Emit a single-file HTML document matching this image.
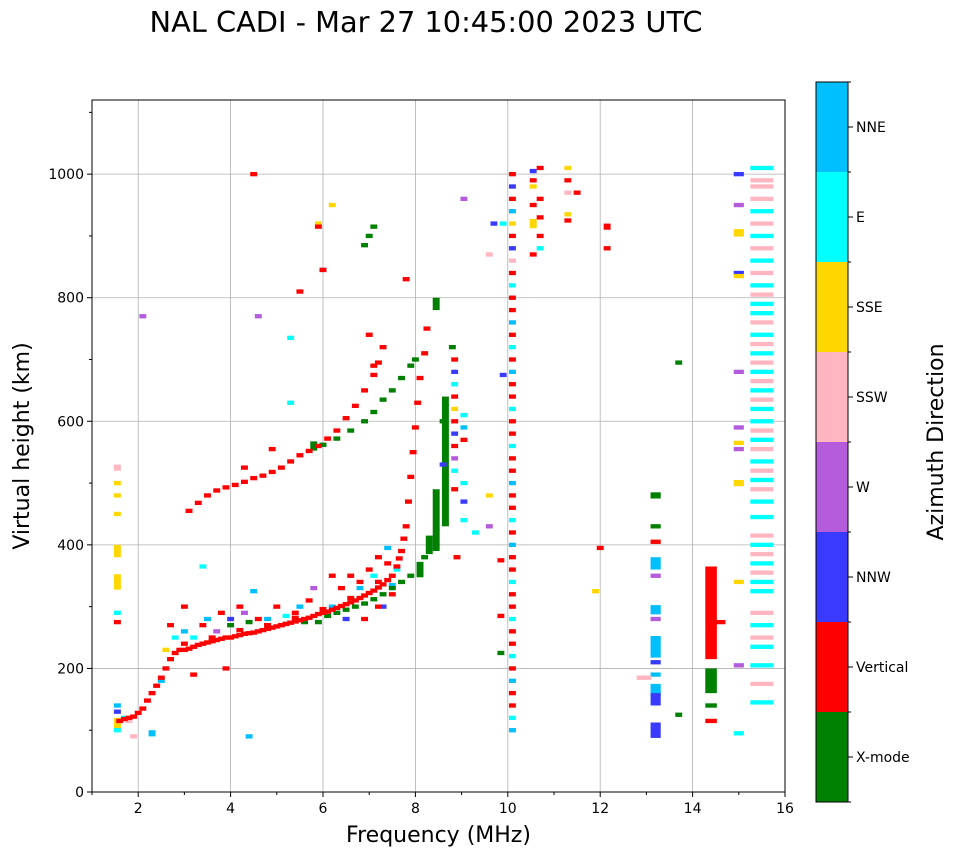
<!DOCTYPE html>
<html><head><meta charset="utf-8"><style>
body{margin:0;background:#fff;font-family:"DejaVu Sans","Liberation Sans",sans-serif}
</style></head><body>
<svg id="c" width="958" height="857" xmlns="http://www.w3.org/2000/svg" font-family="DejaVu Sans, Liberation Sans, sans-serif">
<text x="426" y="32" font-size="28.8" text-anchor="middle">NAL CADI - Mar 27 10:45:00 2023 UTC</text>
<g id="grid"></g><g id="marks"></g><g id="axes"></g><g id="cbar"></g>
</svg>
<script>
const xTicks=[2,4,6,8,10,12,14,16];
const yTicks=[0,200,400,600,800,1000];
const catNames=["X-mode","Vertical","NNW","W","SSW","SSE","E","NNE"];
const catColors=["#008000","#ff0000","#3a3aff","#b45cdb","#ffb6c1","#ffd700","#00ffff","#00bfff"];
// [freq MHz, height km, category, height-extent km]
const oTrace=[[1.6,115,1],[1.7,118,1],[1.8,120,1],[1.9,122,1],[2.0,128,1],[2.1,135,1],[2.2,148,1],[2.3,160,1],[2.4,172,1],[2.5,185,1],[2.6,200,1],[2.7,215,1],[2.8,225,1],[2.9,230,1],[3.0,230,1],[3.1,232,1],[3.2,235,1],[3.3,238,1],[3.4,240,1],[3.5,242,1],[3.6,244,1],[3.7,246,1],[3.8,248,1],[3.9,250,1],[4.0,250,1],[4.1,252,1],[4.2,254,1],[4.3,256,1],[4.4,257,1],[4.5,258,1],[4.6,260,1],[4.7,262,1],[4.8,264,1],[4.9,266,1],[5.0,268,1],[5.1,270,1],[5.2,272,1],[5.3,274,1],[5.4,276,1],[5.5,278,1],[5.6,280,1],[5.7,282,1],[5.8,285,1],[5.9,288,1],[6.0,290,1],[6.1,292,1],[6.2,295,1],[6.3,298,1],[6.4,301,1],[6.5,304,1],[6.6,307,1],[6.7,310,1],[6.8,314,1],[6.9,318,1],[7.0,322,1],[7.1,326,1],[7.2,331,1],[7.3,336,1],[7.4,343,1],[7.5,350,1],[7.6,365,1],[7.65,378,1],[7.7,390,1],[7.75,410,1],[7.8,430,1],[7.85,470,1],[7.9,510,1],[7.95,550,1],[8.0,590,1],[8.05,630,1],[8.1,670,1],[8.2,710,1],[8.25,750,1],[3.0,240,1],[3.6,250,1],[4.2,262,1],[4.8,270,1],[5.4,282,1],[6.0,296,1],[6.6,314,1],[7.2,340,1]];
const oScatter=[[2.7,270,1],[3.0,300,1],[3.2,190,1],[3.4,270,1],[3.8,290,1],[3.9,200,1],[4.2,300,1],[4.6,280,1],[5.0,300,1],[5.4,290,1],[5.7,310,1],[6.2,350,1],[6.4,330,1],[6.6,350,1],[6.8,340,1],[7.0,360,1],[7.2,380,1],[7.4,370,1],[6.9,280,1],[7.2,300,1],[7.5,320,1],[7.1,690,1],[7.3,720,1],[7.0,740,1],[7.8,830,1],[5.5,810,1],[6.0,845,1],[4.5,1000,1],[5.9,915,1]];
const xTrace=[[4.0,270,0],[4.4,275,0],[4.8,270,0],[5.2,272,0],[5.6,275,0],[5.9,275,0],[6.1,285,0],[6.3,290,0],[6.5,295,0],[6.7,300,0],[6.9,305,0],[7.1,312,0],[7.3,320,0],[7.5,330,0],[7.7,340,0],[7.9,350,0],[8.1,360,0,25],[8.2,380,0],[8.3,400,0,30],[8.45,440,0,100],[8.45,790,0,20],[8.65,535,0,210],[8.6,600,0],[5.8,560,0,15],[6.0,562,0],[6.3,572,0],[6.6,585,0],[6.9,600,0],[7.1,615,0],[7.3,635,0],[7.5,650,0],[7.7,670,0],[7.9,690,0],[8.0,700,0],[6.9,885,0],[7.0,900,0],[7.1,915,0],[13.7,695,0],[13.7,125,0],[14.4,180,0,40],[14.4,140,0]];
const hop2=[[3.1,455,1],[3.3,468,1],[3.5,480,1],[3.7,488,1],[3.9,493,1],[4.1,497,1],[4.3,502,1],[4.5,508,1],[4.7,512,1],[4.9,518,1],[5.1,525,1],[5.3,535,1],[5.5,545,1],[5.7,552,1],[5.9,560,1],[6.1,572,1],[6.3,585,1],[6.5,605,1],[6.7,625,1],[6.9,650,1],[7.1,675,1],[7.2,695,1],[4.3,525,1],[4.9,555,1]];
const lowCol=[[1.55,110,5,20],[1.55,100,6],[1.55,140,7],[1.55,130,2],[1.55,390,5,20],[1.55,340,5,25],[1.55,290,6],[1.55,275,1],[1.55,450,5],[1.55,500,5],[1.55,525,4,10],[1.55,480,5],[1.7,120,6],[1.8,115,4],[1.9,90,4],[2.3,95,7,10],[2.5,180,7],[2.6,230,5],[2.8,250,6],[3.0,260,7],[3.2,250,6],[3.5,280,7],[3.7,260,3],[4.0,280,2],[4.3,290,3],[4.5,325,7],[4.4,90,7],[4.8,280,7],[5.2,285,6],[5.5,300,7],[5.8,330,3],[6.2,300,7],[6.5,280,2],[6.8,330,7],[7.1,350,6],[7.3,300,2],[7.5,335,7],[7.6,360,6],[7.4,395,7],[3.4,365,6],[5.3,735,6],[4.6,770,3],[2.1,770,3],[6.0,845,2],[6.2,950,5],[5.9,920,5],[5.3,630,6]];
const col9=[[8.85,700,1],[8.85,680,2],[8.85,660,6],[8.85,640,1],[8.85,620,5],[8.85,600,1],[8.85,580,2],[8.85,560,1],[8.85,520,6],[8.85,490,1],[8.85,540,3],[9.05,610,6],[9.05,590,7],[9.05,570,1],[9.05,500,6],[9.05,470,2],[9.05,440,6],[9.05,960,3],[9.3,420,6],[9.6,480,5],[9.6,430,3],[9.7,920,2],[9.6,870,4],[8.8,720,0],[8.9,380,1],[8.6,530,2]];
const col10=[[10.1,1000,1],[10.1,980,2],[10.1,960,1],[10.1,940,7],[10.1,920,5],[10.1,900,1],[10.1,880,2],[10.1,860,4],[10.1,840,1],[10.1,820,6],[10.1,800,1],[10.1,780,1],[10.1,760,7],[10.1,740,1],[10.1,720,6],[10.1,700,1],[10.1,680,7],[10.1,660,1],[10.1,640,1],[10.1,620,6],[10.1,600,1],[10.1,580,1],[10.1,560,6],[10.1,540,1],[10.1,520,1],[10.1,500,7],[10.1,480,1],[10.1,460,1],[10.1,440,6],[10.1,420,1],[10.1,400,7],[10.1,380,1],[10.1,360,1],[10.1,340,6],[10.1,320,1],[10.1,300,1],[10.1,280,6],[10.1,260,1],[10.1,240,1],[10.1,220,6],[10.1,200,1],[10.1,180,7],[10.1,160,1],[10.1,140,1],[10.1,120,6],[10.1,100,7],[9.85,375,1],[9.85,285,1],[9.85,225,0],[9.9,675,2],[9.9,920,6],[10.55,1005,2],[10.55,990,1],[10.55,950,1],[10.55,920,5,15],[10.55,870,1],[10.7,1010,1],[10.7,960,1],[10.7,930,1],[10.7,880,6],[10.55,980,5],[10.7,900,1],[11.3,1010,5],[11.3,990,1],[11.3,970,4],[11.3,935,5],[11.3,925,1],[11.5,970,1],[12.15,915,1,10],[12.15,880,1],[12.0,395,1],[11.9,325,5]];
const col13=[[13.2,480,0,10],[13.2,430,0],[13.2,405,1],[13.2,370,7,20],[13.2,350,3],[13.2,295,7,15],[13.2,280,3],[13.2,235,7,35],[13.2,210,2],[13.2,190,7],[13.2,165,7,20],[13.2,150,2,20],[13.2,100,2,25],[12.9,185,4],[13.0,185,4],[14.4,290,1,150],[14.4,115,1],[14.6,275,1],[15.0,1000,2],[15.0,950,3],[15.0,905,5,12],[15.0,840,2],[15.0,835,5],[15.0,680,3],[15.0,590,3],[15.0,565,5],[15.0,555,3],[15.0,500,5,10],[15.0,340,5],[15.0,205,3],[15.0,95,6]];
const col15=[[15.5,1010,6],[15.5,990,4],[15.5,980,4],[15.5,960,4],[15.5,940,6],[15.5,920,4],[15.5,900,6],[15.5,880,4],[15.5,860,6],[15.5,840,4],[15.5,820,6],[15.5,805,4],[15.5,790,6],[15.5,775,6],[15.5,760,4],[15.5,740,6],[15.5,725,4],[15.5,710,6],[15.5,695,4],[15.5,680,6],[15.5,665,4],[15.5,650,6],[15.5,635,4],[15.5,620,6],[15.5,600,6],[15.5,585,4],[15.5,570,6],[15.5,555,4],[15.5,535,6],[15.5,520,4],[15.5,505,6],[15.5,490,4],[15.5,470,6],[15.5,445,6],[15.5,415,4],[15.5,400,6],[15.5,385,4],[15.5,370,6],[15.5,355,4],[15.5,340,6],[15.5,325,6],[15.5,290,4],[15.5,270,6],[15.5,250,4],[15.5,235,6],[15.5,205,6],[15.5,175,4],[15.5,145,6]];
const series=[lowCol,xTrace,oTrace,oScatter,hop2,col9,col10,col13,col15];
const L=92,R=785,T=100,B=792;
const xs=f=>L+(f-1)/15*(R-L);
const ys=h=>B-h/1120*(B-T);
const NS="http://www.w3.org/2000/svg";
function mk(p,t,a){const e=document.createElementNS(NS,t);for(const k in a)e.setAttribute(k,a[k]);p.appendChild(e);return e;}
const grid=document.getElementById('grid'),marks=document.getElementById('marks'),axes=document.getElementById('axes'),cb=document.getElementById('cbar');
for(let v=1;v<=16;v++){if(v%2)mk(axes,'line',{x1:xs(v),x2:xs(v),y1:B,y2:B+3,stroke:'#000'});}
for(let v=100;v<=1100;v+=200){mk(axes,'line',{x1:L-3,x2:L,y1:ys(v),y2:ys(v),stroke:'#000'});}
xTicks.forEach(v=>{const x=xs(v);if(v<16){const g=mk(grid,'line',{x1:x,x2:x,y1:T,y2:B,stroke:'#b0b0b0','stroke-width':0.8});

}
mk(axes,'line',{x1:x,x2:x,y1:B,y2:B+5,stroke:'#000'});
const t=mk(axes,'text',{x:x,y:B+21,'font-size':14,'text-anchor':'middle'});t.textContent=v;

});
yTicks.forEach(v=>{const y=ys(v);if(v>0){const g=mk(grid,'line',{x1:L,x2:R,y1:y,y2:y,stroke:'#b0b0b0','stroke-width':0.8});

}
mk(axes,'line',{x1:L-5,x2:L,y1:y,y2:y,stroke:'#000'});
const t=mk(axes,'text',{x:L-8,y:y+5,'font-size':14,'text-anchor':'end'});t.textContent=v;

});
series.forEach(s=>{const wMHz=s===col15?0.5:(s===col13?0.22:0.15);s.forEach(d=>{const f=d[0],h=d[1],c=d[2],dh=d[3]||7;
const ww=(f>=14.3&&f<=14.5)?0.25:wMHz;
const w=xs(f+ww/2)-xs(f-ww/2);const y1=ys(h+dh/2),y2=ys(h-dh/2);
const r=mk(marks,'rect',{x:xs(f)-w/2,y:y1,width:w,height:Math.max(2.5,y2-y1),fill:catColors[c]});

});});
const fr=mk(axes,'rect',{x:L,y:T,width:R-L,height:B-T,fill:'none',stroke:'#000','stroke-width':1});


const xl=mk(axes,'text',{x:(L+R)/2,y:842,'font-size':22,'text-anchor':'middle'});xl.textContent='Frequency (MHz)';


const yl=mk(axes,'text',{x:0,y:0,'font-size':22,'text-anchor':'middle',transform:'translate(29,446) rotate(-90)'});yl.textContent='Virtual height (km)';


const cT=82,cB=802,cL=816,cW=32,bh=(cB-cT)/catNames.length;
catNames.forEach((n,i)=>{const y=cB-(i+1)*bh;
const r=mk(cb,'rect',{x:cL,y:y,width:cW,height:bh,fill:catColors[i]});


mk(cb,'line',{x1:cL+cW,x2:cL+cW+5,y1:y+bh/2,y2:y+bh/2,stroke:'#000'});
mk(cb,'line',{x1:cL+cW,x2:cL+cW+3,y1:y,y2:y,stroke:'#000'});
const t=mk(cb,'text',{x:cL+cW+8,y:y+bh/2+5,'font-size':14});t.textContent=n;

});
mk(cb,'line',{x1:cL+cW,x2:cL+cW+3,y1:cB,y2:cB,stroke:'#000'});
const cf=mk(cb,'rect',{x:cL,y:cT,width:cW,height:cB-cT,fill:'none',stroke:'#000'});


const ct=mk(cb,'text',{x:0,y:0,'font-size':22,'text-anchor':'middle',transform:'translate(943,442) rotate(-90)'});ct.textContent='Azimuth Direction';


</script>
</body></html>
